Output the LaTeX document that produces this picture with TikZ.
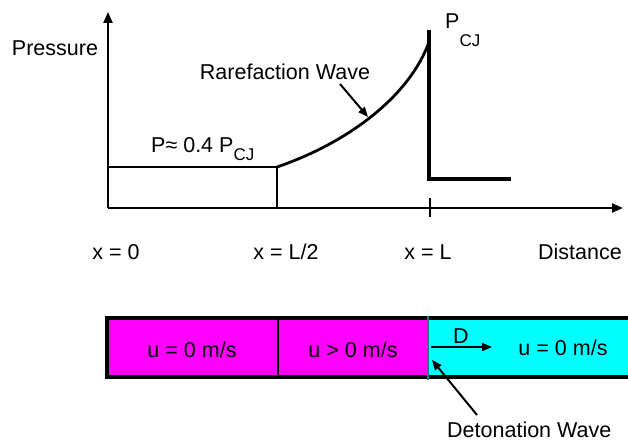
\documentclass[tikz,border=0pt]{standalone}
\usepackage{fontspec}
\setmainfont{Liberation Sans}
\usetikzlibrary{arrows.meta, positioning}

\definecolor{burnt}{RGB}{255,0,255}
\definecolor{fresh}{RGB}{0,255,255}
\definecolor{front}{RGB}{0,135,145}
\newcommand{\lblfont}{\fontsize{21.5}{25}\selectfont}
\newcommand{\subcj}[1]{\raisebox{-#1pt}{\fontsize{17}{20}\selectfont CJ}}

\begin{document}
\begin{tikzpicture}[x=1pt, y=-1pt,
    lbl/.style={font=\lblfont, inner sep=0pt},
    axis/.style={line width=2.2pt, -{Triangle[length=11pt, width=9pt]}},
    profile/.style={line width=2.8pt},
    pointer/.style={line width=2pt, -{Triangle[length=10pt, width=8pt]}},
    tube/.style={line width=4.5pt}
]
    \useasboundingbox (0,0) rectangle (628,441);

    % axes
    \coordinate (o) at (108,208);
    \coordinate (ytop) at (108,12);
    \coordinate (xend) at (623,208);
    \coordinate (tickup) at (430,198);
    \coordinate (tickdn) at (430,217);
    \draw[axis] (o) -- (ytop);
    \draw[axis] (o) -- (xend);
    \draw[line width=2.2pt] (tickup) -- (tickdn);

    % pressure profile
    \coordinate (p0) at (108,167);
    \coordinate (ph) at (277,167);
    \coordinate (pb) at (277,208);
    \coordinate (pcj) at (429,42);
    \coordinate (ptop) at (429,30);
    \coordinate (pfoot) at (429,179);
    \coordinate (pend) at (511,179);
    \draw[profile] (p0) -- (ph) -- (pb);
    \draw[profile] (ph) .. controls (350,142) and (410,95) .. (pcj);
    \draw[profile, line width=3.2pt] (ptop) -- (pfoot) -- (pend);

    \node[lbl] (pres) at (55,48) {Pressure};
    \node[lbl] (rare) at (285,72) {Rarefaction Wave};
    \coordinate (rtail) at (340,84);
    \coordinate (rtip) at (368,117);
    \draw[pointer] (rtail) -- (rtip);
    \node[lbl, anchor=base west] (plow) at (151,152) {P≈ 0.4 P\subcj{8}};
    \node[lbl, anchor=base west] (phigh) at (445,29) {P\subcj{18}};

    % positions
    \node[lbl] (x0) at (116,252) {x = 0};
    \node[lbl] (xhalf) at (286,252) {x = L/2};
    \node[lbl] (xl) at (428,252) {x = L};
    \node[lbl, anchor=east] (dist) at (622,252) {Distance};

    % tube
    \fill[burnt] (107,318) rectangle (428,377);
    \fill[fresh] (428,318) rectangle (630,377);
    \draw[tube] (630,318) -- (107,318) -- (107,377) -- (630,377);
    \draw[line width=2.5pt] (278,318) -- (278,377);
    \draw[front, line width=2pt] (428,316) -- (428,380);

    \node[lbl] (ulow) at (192,350) {u = 0 m/s};
    \node[lbl] (umid) at (353,350) {u > 0 m/s};
    \node[lbl] (uhigh) at (563,348) {u = 0 m/s};

    \coordinate (dtail) at (431,347);
    \coordinate (dtip) at (492,347);
    \draw[pointer] (dtail) -- (dtip);
    \node[lbl] (dlab) at (461,336) {D};

    \coordinate (wtail) at (477,415);
    \coordinate (wtip) at (432,360);
    \draw[pointer] (wtail) -- (wtip);
    \node[lbl, anchor=base west] (wave) at (447,437) {Detonation Wave};
\end{tikzpicture}
\end{document}
